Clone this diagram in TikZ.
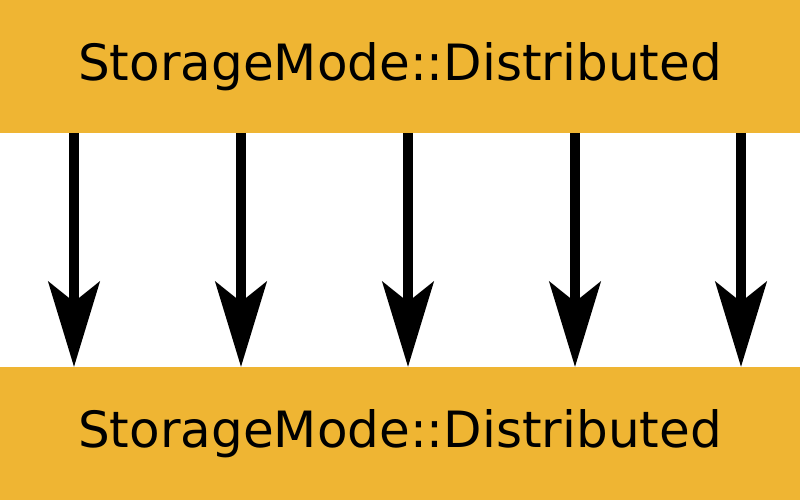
\documentclass[tikz,border=0pt]{standalone}
\usepackage{fontspec}
\setmainfont{DejaVu Sans}
\usetikzlibrary{positioning, arrows.meta}
\tikzset{
    Band/.style = {
        fill=bandFill, inner sep=0pt, outer sep=0pt,
        minimum width=800pt, minimum height=133pt,
        font=\fontsize{50}{60}\selectfont
    },
    Flow/.style = {
        line width=10pt,
        -{Stealth[length=85pt, width=51pt, inset=20pt]}
    }
}
\definecolor{bandFill}{HTML}{EFB533}

\begin{document}
\begin{tikzpicture}[x=1pt, y=1pt, node distance=234pt]
    \useasboundingbox (0,0) rectangle (800,-500);
    \node [Band, anchor=north west] (top) at (0,0) {StorageMode::Distributed};
    \node [Band, below=of top] (bottom) {StorageMode::Distributed};
    \foreach \x [count=\i] in {74, 241, 408, 575, 741} {
        \coordinate (s\i) at (\x, 0);
        \draw [Flow] (top.south -| s\i) to (bottom.north -| s\i);
    }
\end{tikzpicture}
\end{document}
